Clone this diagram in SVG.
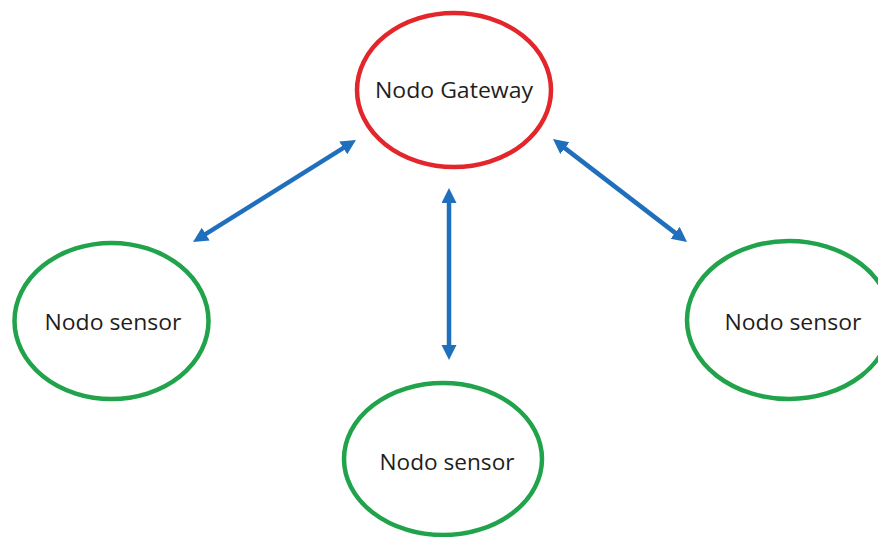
<svg xmlns="http://www.w3.org/2000/svg" width="878" height="537" viewBox="0 0 878 537">
<style>
.gw{fill:#fff;stroke:#E3262B;stroke-width:4.5}
.sn{fill:#fff;stroke:#20A34B;stroke-width:4.5}
.lbl{font-family:"Open Sans","Liberation Sans",sans-serif;font-size:21px;fill:#1e1e1e;text-anchor:middle}
.con{stroke:#1F6FBC;stroke-width:4.5;fill:none;marker-start:url(#ah);marker-end:url(#ah)}
</style>
<defs>
<marker id="ah" markerUnits="userSpaceOnUse" markerWidth="16" markerHeight="16" refX="5" refY="7.5" orient="auto-start-reverse">
<path d="M0,0 L15,7.5 L0,15 z" fill="#1F6FBC"/>
</marker>
</defs>
<rect width="878" height="537" fill="#fff"/>
<g id="gateway">
<ellipse class="gw" cx="454" cy="90" rx="97" ry="77"/>
<text class="lbl" x="454" y="98" textLength="158" lengthAdjust="spacingAndGlyphs">Nodo Gateway</text>
</g>
<g id="sensor-left">
<ellipse class="sn" cx="111.5" cy="321" rx="97" ry="78"/>
<text class="lbl" x="113" y="330" textLength="137" lengthAdjust="spacingAndGlyphs">Nodo sensor</text>
</g>
<g id="sensor-right">
<ellipse class="sn" cx="789" cy="320" rx="102" ry="79"/>
<text class="lbl" x="793" y="330" textLength="137" lengthAdjust="spacingAndGlyphs">Nodo sensor</text>
</g>
<g id="sensor-bottom">
<ellipse class="sn" cx="443" cy="459" rx="99" ry="76"/>
<text class="lbl" x="447" y="470" textLength="135" lengthAdjust="spacingAndGlyphs">Nodo sensor</text>
</g>
<g id="connectors">
<line class="con" x1="201.5" y1="236.7" x2="347.5" y2="145.3"/>
<line class="con" x1="449" y1="198" x2="449" y2="350"/>
<line class="con" x1="560.9" y1="145.1" x2="679.1" y2="235.9"/>
</g>
</svg>
